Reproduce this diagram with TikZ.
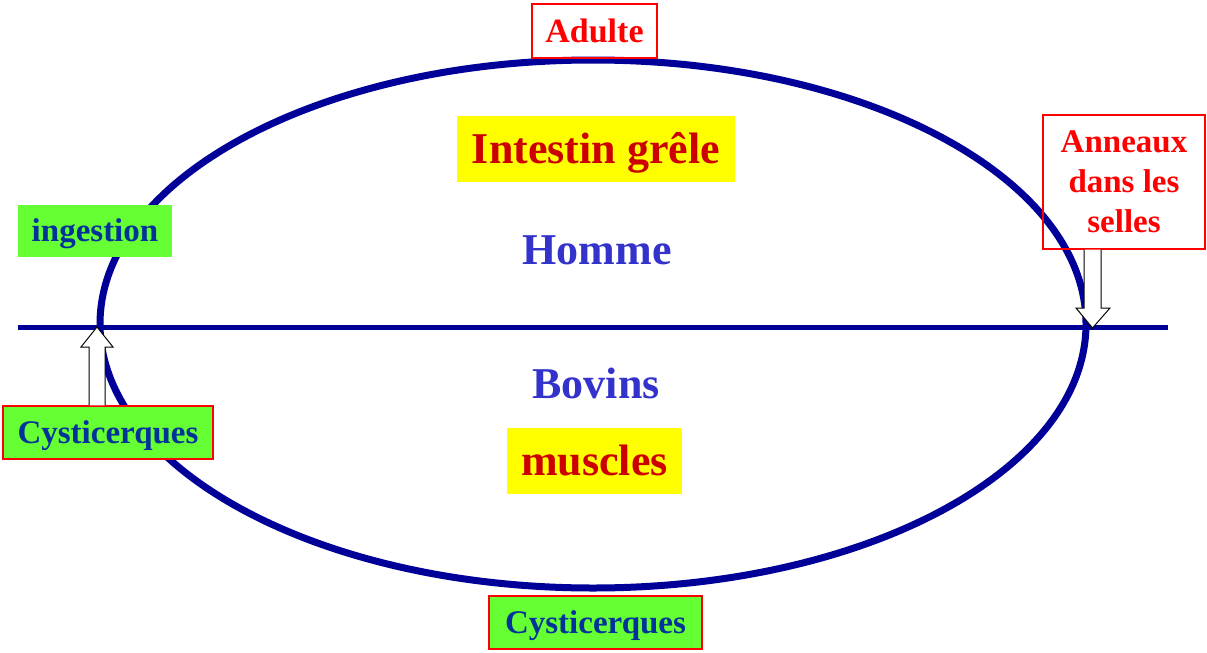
\documentclass[tikz,border=0pt]{standalone}
\usepackage{fontspec}
\setmainfont{Liberation Serif}
\usetikzlibrary{calc}
\definecolor{ellblue}{HTML}{000099}
\definecolor{txtblue}{HTML}{3333CC}
\definecolor{dkblue}{HTML}{003399}
\definecolor{dkred}{HTML}{CC0000}
\definecolor{lgreen}{HTML}{66FF33}
\definecolor{yel}{HTML}{FFFF00}
\definecolor{rd}{HTML}{FF0000}
\begin{document}
\begin{tikzpicture}[x=1pt,y=-1pt,
 box/.style={inner sep=0pt, align=center, text depth=0pt},
 greenbox/.style={box, fill=lgreen, text=dkblue, text height=21.5pt, font=\bfseries\fontsize{33}{40}\selectfont},
 redframe/.style={draw=rd, line width=1.3pt},
 yelbox/.style={box, fill=yel, text=dkred, text height=29pt, font=\bfseries\fontsize{44}{48}\selectfont},
 host/.style={text=txtblue, font=\bfseries\fontsize{44}{48}\selectfont, anchor=base},
 blockarrow/.style={draw=black, fill=white, line width=1pt, line join=miter}]
\useasboundingbox (0,0) rectangle (1207,653);
\draw[ellblue, line width=7pt] (593,324) ellipse [x radius=493, y radius=264];
\draw[ellblue, line width=5pt] (18,327) coordinate (lA) -- (1168,327) coordinate (lB);

\node[box, redframe, text=rd, text height=22.5pt, minimum width=125, minimum height=54, font=\bfseries\fontsize{34}{40}\selectfont] (adulte) at (594.5,31) {Adulte};
\node[yelbox, minimum width=278, minimum height=66] (intestin) at (596,148.5) {Intestin grêle};
\node[host] (homme) at (597,264) {Homme};
\node[host] (bovins) at (596,398) {Bovins};
\node[yelbox, minimum width=175, minimum height=66] (muscles) at (594.5,461) {muscles};
\node[greenbox, minimum width=154, minimum height=52] (ingestion) at (95,231) {ingestion};
\node[greenbox, redframe, minimum width=210, minimum height=53] (cystL) at (108,432.5) {Cysticerques};
\node[greenbox, redframe, minimum width=213, minimum height=53] (cystB) at (595.5,622.5) {Cysticerques};
\node[redframe, text=rd, inner sep=0pt, align=center, minimum width=162, minimum height=134, font=\bfseries\fontsize{33}{40}\selectfont] (anneaux) at (1124,182) {Anneaux\\dans les\\selles};

\draw[blockarrow] ($(cystL.north)+(-19,0)$) -- (89,347) -- (81,347) -- (97,327) -- (113,347) -- (105,347) -- ($(cystL.north)+(-3,0)$);
\draw[blockarrow] ($(anneaux.south)+(-40,0)$) -- (1084,308) -- (1076,308) -- (1092.5,328) -- (1110,308) -- (1101,308) -- ($(anneaux.south)+(-23,0)$);
\end{tikzpicture}
\end{document}
